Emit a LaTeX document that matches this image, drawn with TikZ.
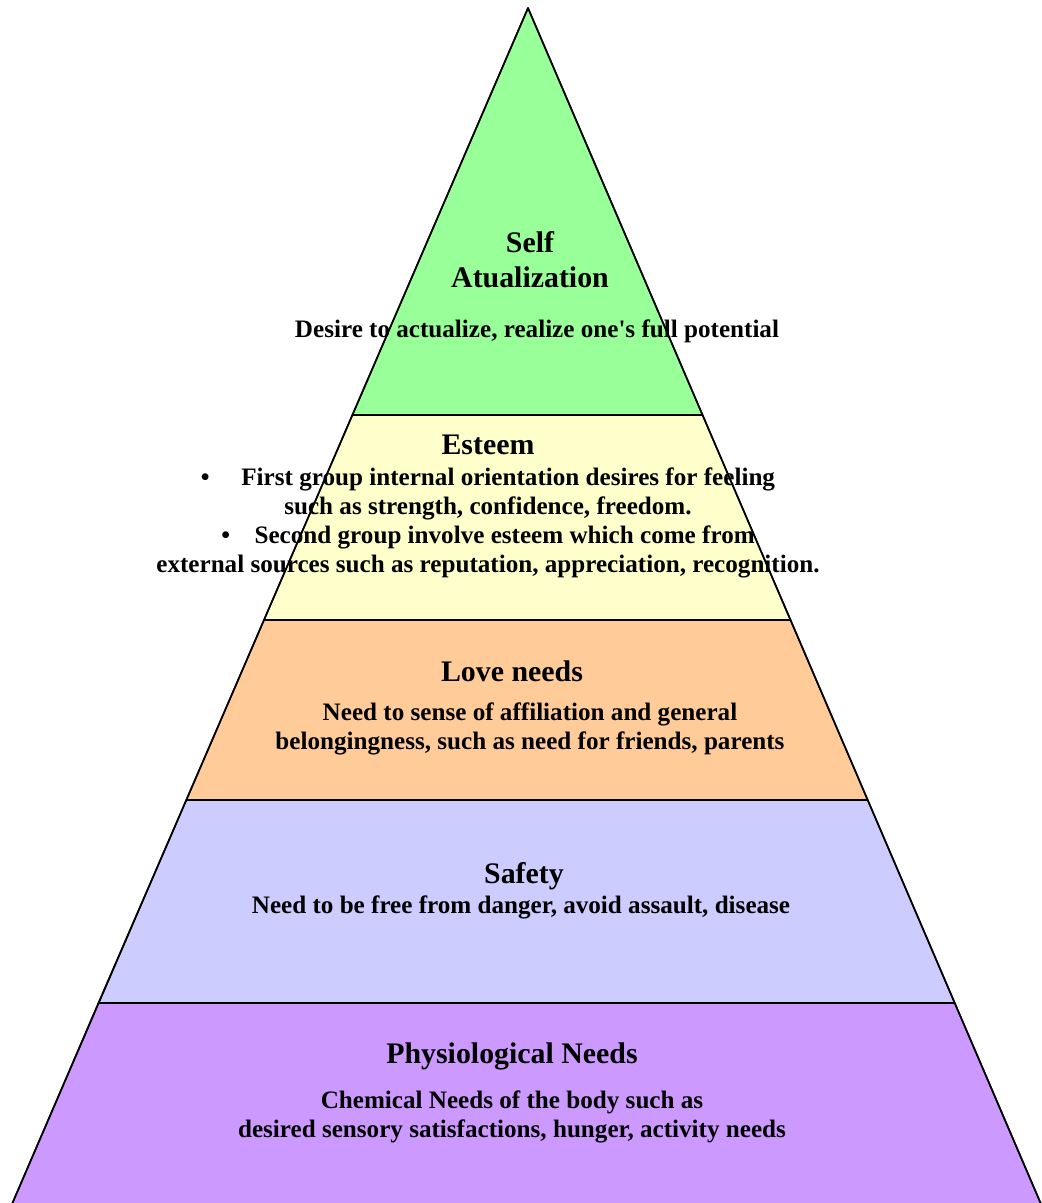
\documentclass[tikz,border=0pt]{standalone}
\usepackage{fontspec}
\setmainfont{Liberation Serif}
\definecolor{selfgreen}{HTML}{99FF99}
\definecolor{esteemyellow}{HTML}{FFFFCC}
\definecolor{loveorange}{HTML}{FFCC99}
\definecolor{safetyblue}{HTML}{CCCCFF}
\definecolor{physiopurple}{HTML}{CC99FF}
\begin{document}
\begin{tikzpicture}[x=0.02cm, y=-0.02cm,
  layer/.style={draw=black, line width=0.9pt, line join=round},
  head/.style={font=\fontsize{17}{19.8}\selectfont\bfseries, inner sep=0pt, align=center},
  body/.style={font=\fontsize{14.3}{16.6}\selectfont\bfseries, inner sep=0pt, align=center}]
  \useasboundingbox (0,0) rectangle (1041,1203);
  % layers, from the base up
  \filldraw[layer, fill=physiopurple] (11.6,1205) -- (98.4,1003) -- (954.7,1003) -- (1041.4,1205);
  \filldraw[layer, fill=safetyblue] (98.4,1003) -- (186.3,800) -- (867.7,800) -- (954.7,1003) -- cycle;
  \filldraw[layer, fill=loveorange] (186.3,800) -- (264,620) -- (790.5,620) -- (867.7,800) -- cycle;
  \filldraw[layer, fill=esteemyellow] (264,620) -- (352.4,415) -- (702.5,415) -- (790.5,620) -- cycle;
  \filldraw[layer, fill=selfgreen] (352.4,415) -- (528,8) -- (702.5,415) -- cycle;
  % outer edges of the pyramid
  \draw[layer] (11.6,1205) -- (528,8) -- (1041.4,1205);
  % texts
  \node[head] (selfhead) at (530,260) {Self\\Atualization};
  \node[body] (selfbody) at (537,331) {Desire to actualize, realize one\textquotesingle s full potential};
  \node[head] (esteemhead) at (488,445) {Esteem};
  \node[body] (esteembody) at (488,523) {\textbullet\hspace{18pt}First group internal orientation desires for feeling\\
    such as strength, confidence, freedom.\\
    \textbullet\hspace{14pt}Second group involve esteem which come from\\
    external sources such as reputation, appreciation, recognition.};
  \node[head] (lovehead) at (512,671) {Love needs};
  \node[body] (lovebody) at (530,729) {Need to sense of affiliation and general\\belongingness, such as need for friends, parents};
  \node[head] (safetyhead) at (524,876) {Safety};
  \node[body] (safetybody) at (521,907) {Need to be free from danger, avoid assault, disease};
  \node[head] (physiohead) at (512,1056) {Physiological Needs};
  \node[body] (physiobody) at (512,1117) {Chemical Needs of the body such as\\desired sensory satisfactions, hunger, activity needs};
\end{tikzpicture}
\end{document}
